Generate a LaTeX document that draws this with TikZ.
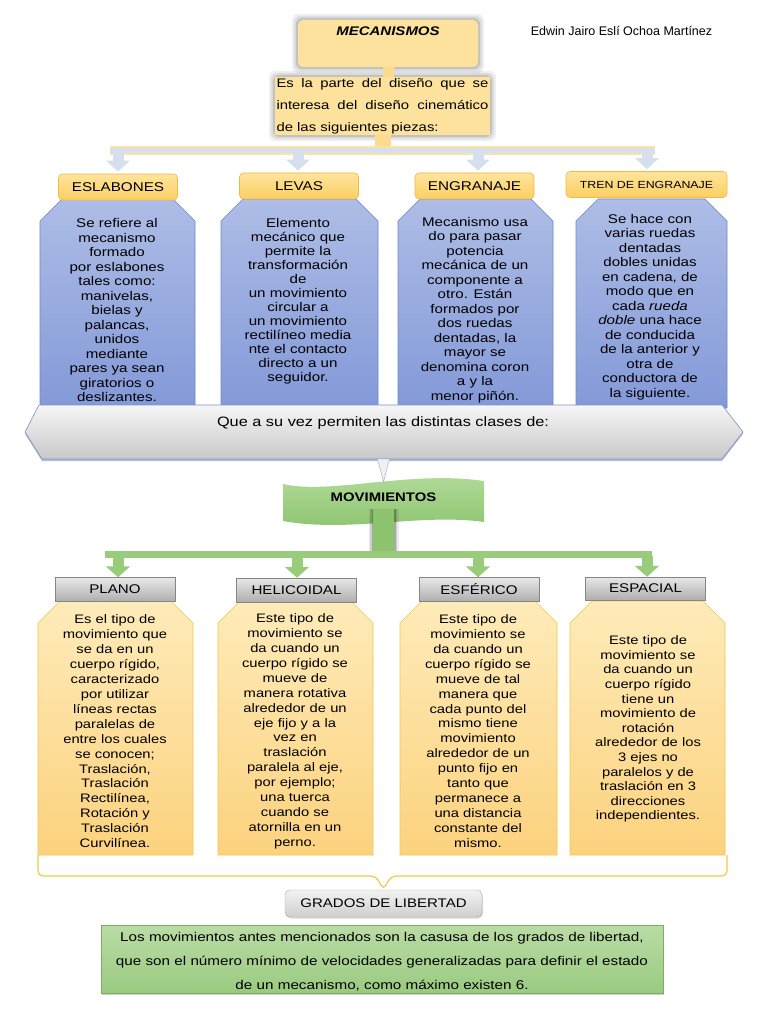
\documentclass[tikz,border=0pt]{standalone}
\usepackage{fontspec}
\setmainfont{Liberation Sans}
\newfontfamily\widefont{Liberation Sans}[FakeStretch=1.2]
\usepackage{tikz}
\usetikzlibrary{arrows.meta,positioning,backgrounds,shadows}
\definecolor{mecyellow}{HTML}{FCE29D}
\definecolor{stemyellow}{HTML}{FBDC8C}
\definecolor{barblue}{HTML}{D5DFEE}
\definecolor{baryellow}{HTML}{FBE3A3}
\definecolor{headtop}{HTML}{FEE49C}
\definecolor{headbot}{HTML}{FBCF63}
\definecolor{headline}{HTML}{F2B945}
\definecolor{bluetop}{HTML}{AEBDE6}
\definecolor{bluebot}{HTML}{8399D8}
\definecolor{blueline}{HTML}{6F88CB}
\definecolor{bantop}{HTML}{F6F6F6}
\definecolor{banbot}{HTML}{C8C8C8}
\definecolor{banline}{HTML}{7D92C6}
\definecolor{flagtop}{HTML}{B3DC9C}
\definecolor{flagbot}{HTML}{8CC36D}
\definecolor{movgreen}{HTML}{98CC7B}
\definecolor{graytop}{HTML}{E8E8E8}
\definecolor{graybot}{HTML}{AEAEAE}
\definecolor{grayline}{HTML}{868686}
\definecolor{orgtop}{HTML}{FEEBB9}
\definecolor{orgbot}{HTML}{FCD27E}
\definecolor{orgline}{HTML}{F6C54E}
\definecolor{gradtop}{HTML}{B9DCA5}
\definecolor{gradbot}{HTML}{9ACA80}
\definecolor{gradline}{HTML}{7BAE5E}

\begin{document}
\begin{tikzpicture}[x=1pt,y=-1pt,
  mecbox/.style={fill=mecyellow,rounded corners=5pt,minimum width=180pt,minimum height=47pt,inner sep=0pt},
  descbox/.style={fill=mecyellow,text width=212pt,align=justify,minimum height=58pt,inner xsep=1.5pt,inner ysep=0pt,font=\widefont\fontsize{12.4}{22}\selectfont},
  piece/.style={draw=headline,line width=0.6pt,rounded corners=4pt,top color=headtop,bottom color=headbot,minimum width=119pt,minimum height=26pt,inner sep=0pt,font=\widefont\fontsize{12.7}{14}\selectfont},
  kind/.style={draw=grayline,line width=0.5pt,top color=graytop,bottom color=graybot,minimum width=120pt,minimum height=24pt,inner sep=0pt,font=\widefont\fontsize{12.6}{14}\selectfont},
  bodytext/.style={font=\widefont\fontsize{12.6}{14.5}\selectfont,align=center,inner sep=0pt},
  movtext/.style={font=\widefont\fontsize{12.3}{14.93}\selectfont,align=center,inner sep=0pt},
  bluepanel/.style={draw=blueline,line width=0.6pt,top color=bluetop,bottom color=bluebot},
  orangepanel/.style={draw=orgline,line width=0.6pt,top color=orgtop,bottom color=orgbot},
  banner/.style={draw=banline,line width=0.6pt,top color=bantop,bottom color=banbot,drop shadow={shadow xshift=0pt,shadow yshift=-2pt,fill=banline,opacity=0.6}},
  pointer/.style={fill=gray!12,draw=banline!80,line width=0.4pt},
  flag/.style={top color=flagtop,bottom color=flagbot},
  stem/.style={draw=stemyellow,line width=16pt},
  bluearr/.style={draw=barblue,line width=11pt,-{Triangle[width=23pt,length=11pt]}},
  greenarr/.style={draw=movgreen,line width=11pt,-{Triangle[width=24pt,length=11pt]}},
  bracket/.style={draw=orgline,line width=1.2pt,rounded corners=5pt},
  gradosbox/.style={draw=grayline!70,rounded corners=5pt,top color=gray!10,bottom color=gray!38,minimum width=197pt,minimum height=27pt,font=\widefont\fontsize{12.5}{14}\selectfont,drop shadow={shadow xshift=1pt,shadow yshift=-1.5pt,opacity=0.3}},
  libbox/.style={draw=gradline,line width=0.6pt,top color=gradtop,bottom color=gradbot,minimum width=562pt,minimum height=68pt,align=center,font=\widefont\fontsize{12.7}{24}\selectfont,drop shadow={shadow xshift=1pt,shadow yshift=-2pt,opacity=0.35}}
]
\useasboundingbox (0,0) rectangle (768,1024);

% Panels behind the definitions
\foreach \xl/\xr in {40/195,221/378,398/553,576/727}
  \path[bluepanel] (\xl,221) -- (\xl+22,199) -- (\xr-22,199) -- (\xr,221) -- (\xr,408) -- (\xl,408) -- cycle;
\foreach \xl/\xr in {38/193,218/373,400/557,570/725}
  \path[orangepanel] (\xl,623) -- (\xl+22,601) -- (\xr-22,601) -- (\xr,623) -- (\xr,855) -- (\xl,855) -- cycle;

% Banner and flag
\path[banner] (39,405) -- (722,405) -- (743,432) -- (722,459) -- (42,459) -- (25,432) -- cycle;
\coordinate (banbot) at (383.5,459);
\path[flag] (283,484) .. controls (330,495) and (410,470) .. (484,481) -- (484,522) .. controls (420,513) and (350,533) .. (283,521) -- cycle;

% Title and author
\node[mecbox] (mec) at (388,43.5) {};
\node[font=\widefont\bfseries\itshape\fontsize{12.5}{14}\selectfont,inner sep=0pt] (mectitle) [below=7pt of mec.north] {MECANISMOS};
\node[font=\fontsize{12.5}{14}\selectfont] (author) at (621.5,31) {Edwin Jairo Eslí Ochoa Martínez};
\node[descbox] (desc) at (382.5,106) {Es la parte del diseño que se\linebreak interesa del diseño cinemático\linebreak de las siguientes piezas:};

% Glow round the yellow boxes
\begin{scope}[on background layer]
\fill[white] (0,0) rectangle (768,1024);
\foreach \s/\o in {6/0.06,4/0.08,2/0.12}{
  \fill[black,opacity=\o,rounded corners=7pt] ([xshift=-\s pt,yshift=-\s pt]mec.south west) rectangle ([xshift=\s pt,yshift=\s pt]mec.north east);
  \fill[black,opacity=\o,rounded corners=7pt] ([xshift=-\s pt,yshift=-\s pt]desc.south west) rectangle ([xshift=\s pt,yshift=\s pt]desc.north east);
}
\end{scope}

% Pieces
\node[piece] (eslab) at (118,187) {ESLABONES};
\node[piece] (levas) at (299,186) {LEVAS};
\node[piece] (engr) at (474.5,186) {ENGRANAJE};
\node[piece,minimum width=161pt,font=\widefont\fontsize{10.3}{12}\selectfont] (tren) at (646.5,184.5) {TREN DE ENGRANAJE};

\node[bodytext] (eslabDef) at (117,310) {Se refiere al\\mecanismo\\formado\\por eslabones\\tales como:\\manivelas,\\bielas y\\palancas,\\unidos\\mediante\\pares ya sean\\giratorios o\\deslizantes.};
\node[bodytext,font=\widefont\fontsize{12.6}{14}\selectfont] (levasDef) at (298,301.5) {Elemento\\mecánico que\\permite la\\transformación\\de\\un movimiento\\circular a\\un movimiento\\rectilíneo media\\nte el contacto\\directo a un\\seguidor.};
\node[bodytext] (engrDef) at (475,310) {Mecanismo usa\\do para pasar\\potencia\\mecánica de un\\componente a\\otro. Están\\formados por\\dos ruedas\\dentadas, la\\mayor se\\denomina coron\\a y la\\menor piñón.};
\node[bodytext] (trenDef) at (650,307) {Se hace con\\varias ruedas\\dentadas\\dobles unidas\\en cadena, de\\modo que en\\cada \textit{rueda}\\\textit{doble} una hace\\de conducida\\de la anterior y\\otra de\\conductora de\\la siguiente.};

\node[font=\widefont\fontsize{13.6}{16}\selectfont,inner sep=0pt] (clases) at (383,423) {Que a su vez permiten las distintas clases de:};
\node[font=\widefont\bfseries\fontsize{12.4}{14}\selectfont,minimum width=201pt,minimum height=30pt,inner sep=0pt] (mov) at (383.5,497) {MOVIMIENTOS};

% Kinds of motion
\node[kind] (plano) at (115,589.5) {PLANO};
\node[kind] (helic) at (296.5,590) {HELICOIDAL};
\node[kind] (esfer) at (479,589.5) {ESFÉRICO};
\node[kind,minimum height=23pt] (espac) at (645.5,588.5) {ESPACIAL};

\node[movtext] (planoDef) at (115,731.3) {Es el tipo de\\movimiento que\\se da en un\\cuerpo rígido,\\caracterizado\\por utilizar\\líneas rectas\\paralelas de\\entre los cuales\\se conocen;\\Traslación,\\Traslación\\Rectilínea,\\Rotación y\\Traslación\\Curvilínea.};
\node[movtext] (helicDef) at (295,731.3) {Este tipo de\\movimiento se\\da cuando un\\cuerpo rígido se\\mueve de\\manera rotativa\\alrededor de un\\eje fijo y a la\\vez en\\traslación\\paralela al eje,\\por ejemplo;\\una tuerca\\cuando se\\atornilla en un\\perno.};
\node[movtext] (esferDef) at (478,731) {Este tipo de\\movimiento se\\da cuando un\\cuerpo rígido se\\mueve de tal\\manera que\\cada punto del\\mismo tiene\\movimiento\\alrededor de un\\punto fijo en\\tanto que\\permanece a\\una distancia\\constante del\\mismo.};
\node[movtext,font=\widefont\fontsize{12.3}{14.6}\selectfont] (espacDef) at (648,729.2) {Este tipo de\\movimiento se\\da cuando un\\cuerpo rígido\\tiene un\\movimiento de\\rotación\\alrededor de los\\3 ejes no\\paralelos y de\\traslación en 3\\direcciones\\independientes.};

% Degrees of freedom
\node[gradosbox] (grados) at (383.5,903.5) {GRADOS DE LIBERTAD};
\node[libbox] (libertad) at (382,959) {};
\node[align=center,font=\widefont\fontsize{12.7}{24}\selectfont,inner sep=0pt] (libtext) at (382,962) {Los movimientos antes mencionados son la casusa de los grados de libertad,\\que son el número mínimo de velocidades generalizadas para definir el estado\\de un mecanismo, como máximo existen 6.};

% Connectors (top)
\draw[stem,line width=11pt] (mec.south) -- (mec.south |- desc.north);
\coordinate (barL) at (110,150.5);
\coordinate (barR) at (655,150.5);
\draw[stem] (desc.south) -- (desc.south |- barL);
\draw[draw=baryellow,line width=9pt] (barL) -- (barR);
\draw[draw=barblue,line width=5.5pt] (barL) -- (barR);
\foreach \x/\n in {118/eslab,298/levas,478/engr,647/tren}{
  \coordinate (a\n) at (\x,153);
  \draw[bluearr] (a\n) -- ([yshift=2pt]a\n |- \n.north);
}

% Connectors (middle)
\path[pointer] ([xshift=-6pt]banbot) -- (mov.north) -- ([xshift=6pt]banbot) -- cycle;
\coordinate (gbarL) at (105,554.5);
\coordinate (gbarR) at (652,554.5);
\foreach \w/\o in {30/0.08,27/0.12,24/0.18}
  \draw[black,opacity=\o,line width=\w pt] ([yshift=3pt]mov.south) -- (mov.south |- gbarL);
\draw[draw=flagbot,line width=21pt] ([yshift=3pt]mov.south) -- (mov.south |- gbarL);
\draw[draw=movgreen,line width=7pt] (gbarL) -- (gbarR);
\foreach \x/\n in {118/plano,297/helic,478/esfer,647/espac}{
  \coordinate (g\n) at (\x,556);
  \draw[greenarr] (g\n) -- (g\n |- \n.north);
}

% Bracket to the degrees of freedom
\coordinate (brL) at (38,855);
\coordinate (brR) at (727,855);
\draw[bracket] (brL) -- (38,876) -- (376,876) -- (grados.north) -- (391,876) -- (727,876) -- (brR);

\end{tikzpicture}
\end{document}
